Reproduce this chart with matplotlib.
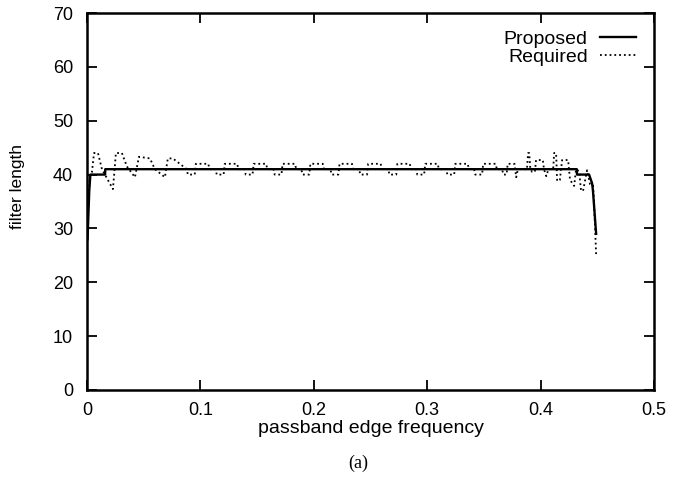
import matplotlib
matplotlib.use("Agg")
import matplotlib.pyplot as plt

# filter length (a)
prop_x = [0.0005, 0.002, 0.003, 0.016, 0.0161, 0.432, 0.4321, 0.4428, 0.4454, 0.4462, 0.449]
prop_y = [28, 37, 40, 40, 41, 41, 40, 40, 38.4, 37, 29]

req_x = [0.0009, 0.0026, 0.0044, 0.0062, 0.0097, 0.0132, 0.0229, 0.0255, 0.0308, 0.0352,
         0.0423, 0.0458, 0.0555, 0.0599, 0.0687, 0.0713, 0.0757, 0.0819,
         0.0880, 0.0889, 0.0950, 0.0960, 0.1070, 0.1080,
         0.1135, 0.1144, 0.1205, 0.1215, 0.1325, 0.1335,
         0.1390, 0.1400, 0.1460, 0.1470, 0.1580, 0.1590,
         0.1645, 0.1655, 0.1715, 0.1725, 0.1835, 0.1845,
         0.1890, 0.1900, 0.1960, 0.1970, 0.2080, 0.2090,
         0.2147, 0.2157, 0.2217, 0.2227, 0.2337, 0.2347,
         0.2400, 0.2410, 0.2470, 0.2480, 0.2590, 0.2600,
         0.2657, 0.2667, 0.2727, 0.2737, 0.2847, 0.2857,
         0.2903, 0.2913, 0.2973, 0.2983, 0.3093, 0.3103,
         0.3168, 0.3178, 0.3238, 0.3248, 0.3358, 0.3368,
         0.3414, 0.3424, 0.3484, 0.3494, 0.3604, 0.3614,
         0.3661, 0.3671, 0.3700, 0.3710, 0.3770, 0.3785, 0.3800,
         0.3880, 0.3890, 0.3900, 0.3910, 0.3926, 0.3950, 0.3960, 0.4020, 0.4030, 0.4050,
         0.4070, 0.4111, 0.4120, 0.4137, 0.4146, 0.4170, 0.4190, 0.4243, 0.4260, 0.4296,
         0.4313, 0.4340, 0.4357, 0.4375, 0.4410, 0.4437, 0.4463, 0.4472, 0.4490]
req_y = [33.4, 40, 40.5, 44, 44, 41, 37.3, 44, 44, 41.5,
         39.5, 43.3, 43, 41, 39.5, 43, 43, 42,
         41, 40, 40, 42, 42, 41,
         41, 40, 40, 42, 42, 41,
         41, 40, 40, 42, 42, 41,
         41, 40, 40, 42, 42, 41,
         41, 40, 40, 42, 42, 41,
         41, 40, 40, 42, 42, 41,
         41, 40, 40, 42, 42, 41,
         41, 40, 40, 42, 42, 41,
         41, 40, 40, 42, 42, 41,
         41, 40, 40, 42, 42, 41,
         41, 40, 40, 42, 42, 41,
         41, 40, 40, 42, 42, 39.5, 41,
         41, 44, 44, 41, 40.5, 40.5, 42.7, 42.7, 41, 39.7,
         41, 41, 44, 44, 38.8, 39, 42.7, 42.7, 39, 37.9,
         41, 40.6, 37, 37, 40.8, 38.2, 38, 34.5, 25.2]

plt.rcParams['font.family'] = ['Liberation Sans', 'DejaVu Sans']

fig = plt.figure(figsize=(6.86, 4.82), dpi=100)
ax = fig.add_axes([0.1268, 0.1909, 0.8265, 0.7821])

ax.plot(prop_x, prop_y, color='black', linewidth=1.7, label='Proposed')
ax.plot(req_x, req_y, color='black', linewidth=1.3, linestyle=':', label='Required')

ax.set_xlim(0, 0.5)
ax.set_ylim(0, 70)
ax.set_xticks([0, 0.1, 0.2, 0.3, 0.4, 0.5])
ax.set_xticklabels(['0', '0.1', '0.2', '0.3', '0.4', '0.5'])
ax.set_yticks(range(0, 71, 10))

ax.tick_params(direction='in', length=7, width=1.3, top=True, right=True,
               labelsize=13)
ax.tick_params(axis='x', pad=9)
ax.tick_params(axis='y', pad=10)
for s in ax.spines.values():
    s.set_linewidth(1.8)

ax.set_xlabel('passband edge frequency', fontsize=14)
ax.set_ylabel('filter length', fontsize=12.5,
              family=['Liberation Sans Narrow', 'Liberation Sans'])
ax.xaxis.set_label_coords(0.5, -0.08)
ax.yaxis.set_label_coords(-0.11, 0.541)

ax.legend(loc='upper right', frameon=False, markerfirst=False, fontsize=14,
          handlelength=1.9, handletextpad=0.6, labelspacing=0.0,
          borderaxespad=0.5)

fig.text(0.522, 0.039, '(a)', family='Liberation Serif', fontsize=13,
         ha='center', va='center')

fig.savefig('out.png', dpi=100)
